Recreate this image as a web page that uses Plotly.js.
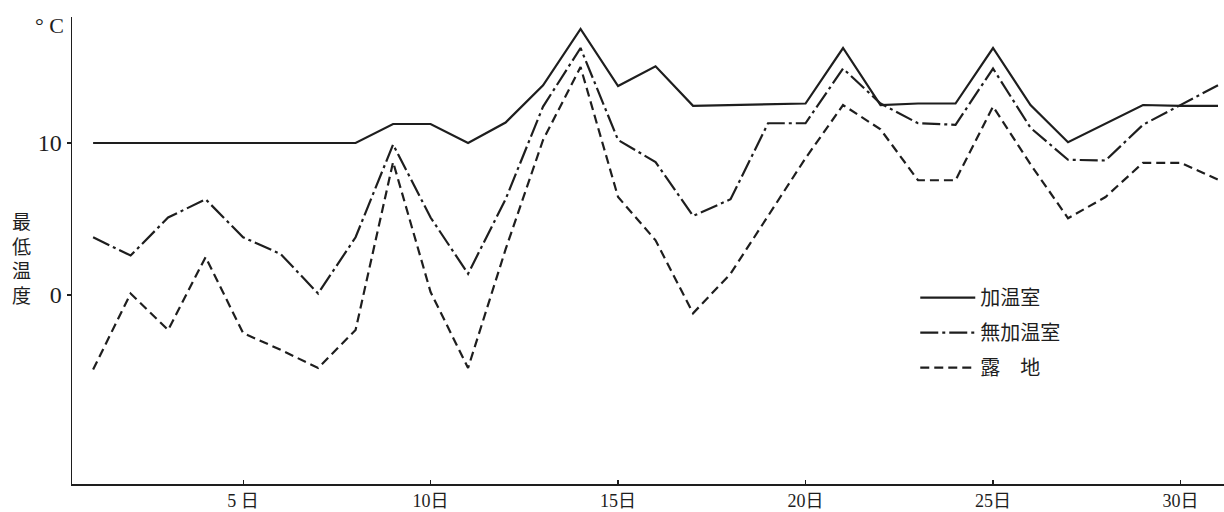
<!DOCTYPE html>
<html>
<head>
<meta charset="utf-8">
<script src="https://cdn.plot.ly/plotly-3.0.1.min.js"></script>
<style>
html,body{margin:0;padding:0;background:#fff;}
#chart{width:1224px;height:512px;}
</style>
</head>
<body>
<div id="chart"></div>
<script>
const days = [1,2,3,4,5,6,7,8,9,10,11,12,13,14,15,16,17,18,19,20,21,22,23,24,25,26,27,28,29,30,31];
const heated = [10,10,10,10,10,10,10,10,11.25,11.25,10,11.35,13.8,17.5,13.75,15.05,12.45,12.5,12.55,12.6,16.25,12.5,12.6,12.6,16.25,12.5,10.05,11.3,12.5,12.45,12.45];
const unheated = [3.8,2.6,5.1,6.3,3.8,2.7,0.1,3.8,9.9,5.1,1.4,6.3,12.4,16.25,10.2,8.75,5.2,6.3,11.3,11.3,14.9,12.6,11.3,11.2,14.9,11.0,8.9,8.85,11.2,12.5,13.8];
const openField = [-4.9,0.1,-2.3,2.5,-2.5,-3.6,-4.8,-2.3,8.75,0.2,-4.8,3.0,10.2,15.0,6.45,3.6,-1.2,1.4,5.2,9.0,12.5,10.9,7.55,7.55,12.4,8.6,5.05,6.45,8.7,8.7,7.6];
const seriesNames = ["加温室","無加温室","露　地"];
const xTickVals = [5,10,15,20,25,30];
const xTickText = ["5 日","10日","15日","20日","25日","30日"];
const yTickVals = [0,10];
const yTickText = ["0","10"];

const ink = "#1e1e1e";
const serif = "Liberation Serif, DejaVu Serif, Noto Sans CJK JP, serif";
const cjk = "Noto Sans CJK JP, sans-serif";

const traces = [
  {x: days, y: heated, name: seriesNames[0], mode: "lines", legendgroup: "a",
   line: {color: ink, width: 2.2, dash: "solid"}},
  {x: days, y: unheated, name: seriesNames[1], mode: "lines", legendgroup: "b",
   line: {color: ink, width: 2.2, dash: "18px,4px,3px,4px"}},
  {x: days, y: openField, name: seriesNames[2], mode: "lines", legendgroup: "c",
   line: {color: ink, width: 2.2, dash: "9px,5px"}}
];

const layout = {
  width: 1224, height: 512,
  margin: {l: 72, r: 0, t: 17, b: 28, pad: 0},
  paper_bgcolor: "#fff", plot_bgcolor: "#fff",
  showlegend: true,
  legend: {x: 0.732, y: 0.441, xanchor: "left", yanchor: "top",
    bgcolor: "rgba(0,0,0,0)", borderwidth: 0, itemwidth: 55, tracegroupgap: 6,
    font: {family: cjk, size: 20, color: ink}},
  xaxis: {range: [0.437, 31.16], showgrid: false, zeroline: false,
    showline: true, linecolor: ink, linewidth: 1.5,
    tickmode: "array", tickvals: xTickVals, ticktext: xTickText,
    ticks: "inside", ticklen: 4, tickwidth: 1.2, tickcolor: ink,
    tickfont: {family: serif, size: 18, color: ink}, fixedrange: true},
  yaxis: {range: [-12.43, 18.29], showgrid: false, zeroline: false,
    showline: true, linecolor: ink, linewidth: 1.5,
    tickmode: "array", tickvals: yTickVals, ticktext: yTickText,
    ticks: "outside", ticklen: 4, tickwidth: 1.2, tickcolor: ink,
    tickfont: {family: serif, size: 24, color: ink}, fixedrange: true},
  annotations: [
    {xref: "paper", yref: "paper", x: -0.005, y: 0.981, xanchor: "right", yanchor: "middle",
     text: "° C", showarrow: false, font: {family: serif, size: 22, color: ink}},
    {xref: "paper", yref: "paper", x: -0.034, y: 0.485, xanchor: "right", yanchor: "middle",
     text: "最<br>低<br>温<br>度", showarrow: false, align: "center",
     font: {family: cjk, size: 19, color: ink}}
  ]
};

Plotly.newPlot("chart", traces, layout, {staticPlot: true, displayModeBar: false});
</script>
</body>
</html>
